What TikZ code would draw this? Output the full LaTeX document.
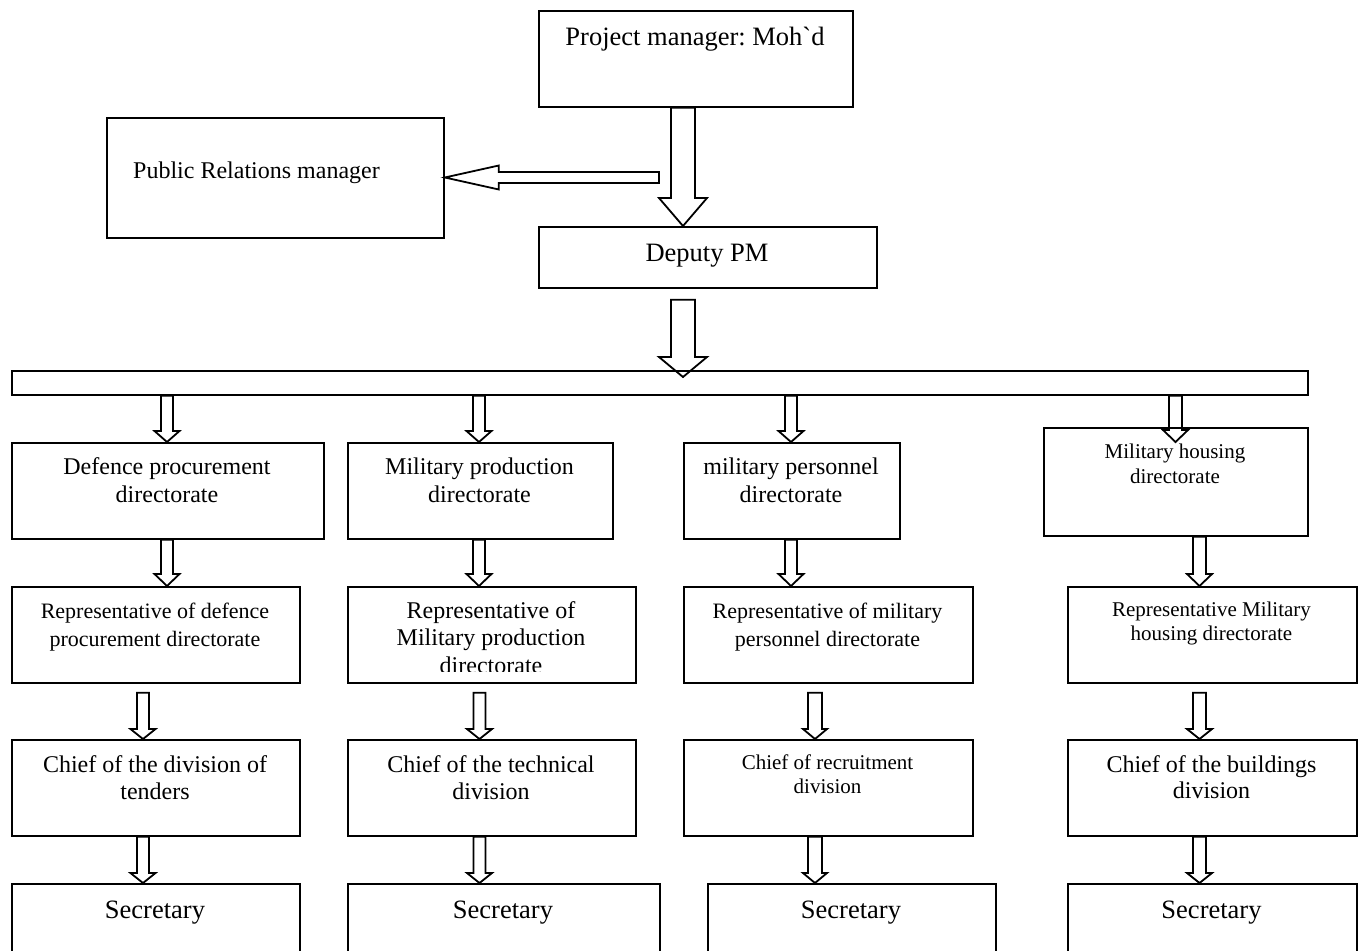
\documentclass[tikz,border=0pt]{standalone}
\usepackage{fontspec}
\setmainfont{Liberation Serif}
\usetikzlibrary{calc}
\frenchspacing

\tikzset{
  box/.style={draw, line width=1.8pt, inner sep=0pt, anchor=north west},
  blockarrow/.style={draw, line width=1.8pt, line join=miter},
  lbl/.style={inner sep=0pt, anchor=north, align=center},
}

% rectangle node from its top-left and bottom-right corners
\newcommand\boxat[5]{\node[box, minimum width={#4pt-#2pt}, minimum height={#5pt-#3pt}] (#1) at (#2,#3) {};}
% centred label: name, x, first baseline, font size, leading, text
\newcommand\txt[6]{\node[lbl, font=\fontsize{#4}{#5}\selectfont] (#1) at (#2,{#3-0.7*#5}) {\strut #6};}
% hollow downward block arrow: start, tip, x, shaft half width, head half width, head length
\newcommand\blockdown[6]{%
  \draw[blockarrow] let \p1=#1, \p2=#2 in
    ({#3pt-#4pt},\y1) -- ({#3pt-#4pt},{\y2+#6pt}) -- ({#3pt-#5pt},{\y2+#6pt}) --
    (#3pt,\y2) --
    ({#3pt+#5pt},{\y2+#6pt}) -- ({#3pt+#4pt},{\y2+#6pt}) -- ({#3pt+#4pt},\y1) -- cycle;}

\begin{document}
\begin{tikzpicture}[x=1pt, y=-1pt]
\useasboundingbox (0,0) rectangle (1361,951);

% top level
\boxat{pm}{538}{10}{852}{106}
\txt{pmt}{695}{45}{26.5}{30}{Project manager: Moh\textasciigrave d}
\boxat{pr}{106}{117}{443}{237}
\node[inner sep=0pt, anchor=base west, font=\fontsize{24}{28}\selectfont] (prt) at (133,178) {Public Relations manager};
\boxat{dep}{538}{226}{876}{287}
\txt{dept}{707}{261}{26.5}{30}{Deputy PM}
\boxat{bar}{11}{370}{1307}{394}

% directorates
\boxat{d1}{11}{442}{323}{538}
\txt{d1t}{167}{474}{24}{28}{Defence procurement\\directorate}
\boxat{d2}{347}{442}{612}{538}
\txt{d2t}{479.5}{474}{24}{28}{Military production\\directorate}
\boxat{d3}{683}{442}{899}{538}
\txt{d3t}{791}{474}{24}{28}{military personnel\\directorate}
\boxat{d4}{1043}{427}{1307}{535}
\txt{d4t}{1175}{458}{21}{25}{Military housing\\directorate}

% representatives
\boxat{r1}{11}{586}{299}{682}
\txt{r1t}{155}{618}{22}{28}{Representative of defence\\procurement directorate}
\boxat{r2}{347}{586}{635}{682}
\begin{scope}
  \clip (349,588) rectangle (633,671);
  \txt{r2t}{491}{618}{24}{27.5}{Representative of\\Military production\\directorate}
\end{scope}
\boxat{r3}{683}{586}{972}{682}
\txt{r3t}{827.5}{618}{22}{28}{Representative of military\\personnel directorate}
\boxat{r4}{1067}{586}{1356}{682}
\txt{r4t}{1211.5}{616}{21}{24}{Representative Military\\housing directorate}

% division chiefs
\boxat{c1}{11}{739}{299}{835}
\txt{c1t}{155}{772}{24}{27}{Chief of the division of\\tenders}
\boxat{c2}{347}{739}{635}{835}
\txt{c2t}{491}{772}{24}{27}{Chief of the technical\\division}
\boxat{c3}{683}{739}{972}{835}
\txt{c3t}{827.5}{769}{21}{24}{Chief of recruitment\\division}
\boxat{c4}{1067}{739}{1356}{835}
\txt{c4t}{1211.5}{772}{24}{26}{Chief of the buildings\\division}

% secretaries
\boxat{s1}{11}{883}{299}{985}
\txt{s1t}{155}{918}{26.5}{30}{Secretary}
\boxat{s2}{347}{883}{659}{985}
\txt{s2t}{503}{918}{26.5}{30}{Secretary}
\boxat{s3}{707}{883}{995}{985}
\txt{s3t}{851}{918}{26.5}{30}{Secretary}
\boxat{s4}{1067}{883}{1356}{985}
\txt{s4t}{1211.5}{918}{26.5}{30}{Secretary}

% connectors at the top
\blockdown{(pm.south)}{(dep.north)}{683}{12}{24}{28}
\coordinate (prsrc) at (659,177.5);
\draw[blockarrow] let \p1=(prsrc), \p2=(pr.east) in
  (\x1,{\y1+5.5pt}) -- ({\x2+54pt},{\y1+5.5pt}) -- ({\x2+54pt},{\y1+12pt}) --
  (\x2,\y1) --
  ({\x2+54pt},{\y1-12pt}) -- ({\x2+54pt},{\y1-5.5pt}) -- (\x1,{\y1-5.5pt}) -- cycle;
\blockdown{($(dep.south)+(0,11)$)}{($(bar.north)+(0,7)$)}{683}{12}{24}{20}

% bar to directorates
\blockdown{(bar.south)}{(d1.north)}{167}{6}{12.5}{11}
\blockdown{(bar.south)}{(d2.north)}{479}{6}{12.5}{11}
\blockdown{(bar.south)}{(d3.north)}{791}{6}{12.5}{11}
\blockdown{(bar.south)}{($(d4.north)+(0,15)$)}{1175.5}{6.5}{12.5}{12}

% directorates to representatives
\blockdown{(d1.south)}{(r1.north)}{167}{6}{12.5}{12}
\blockdown{(d2.south)}{(r2.north)}{479}{6}{12.5}{12}
\blockdown{(d3.south)}{(r3.north)}{791}{6}{12.5}{12}
\blockdown{(d4.south)}{(r4.north)}{1199.5}{6.5}{12.5}{12}

% representatives to chiefs
\blockdown{($(r1.south)+(0,9)$)}{(c1.north)}{143}{6}{12.5}{10}
\blockdown{($(r2.south)+(0,9)$)}{(c2.north)}{479.5}{6}{12.5}{10}
\blockdown{($(r3.south)+(0,9)$)}{(c3.north)}{815}{7}{12}{10}
\blockdown{($(r4.south)+(0,9)$)}{(c4.north)}{1199.5}{6.5}{12.5}{10}

% chiefs to secretaries
\blockdown{(c1.south)}{(s1.north)}{143}{6}{12.5}{10}
\blockdown{(c2.south)}{(s2.north)}{479.5}{6}{12.5}{10}
\blockdown{(c3.south)}{(s3.north)}{815}{7}{12}{10}
\blockdown{(c4.south)}{(s4.north)}{1199.5}{6.5}{12.5}{10}
\end{tikzpicture}
\end{document}
